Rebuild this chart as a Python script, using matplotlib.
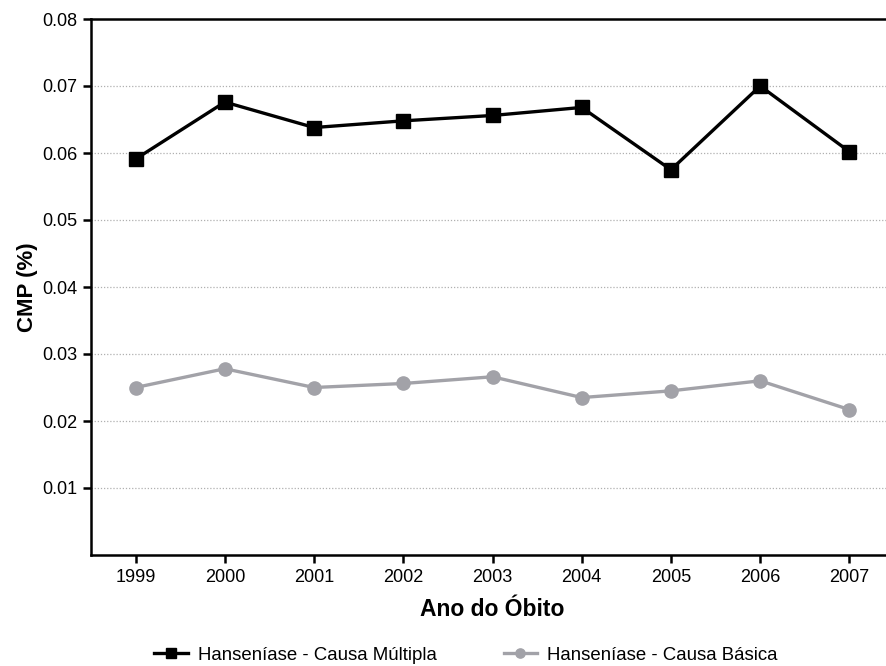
import matplotlib
matplotlib.use("Agg")
import matplotlib.pyplot as plt

plt.rcParams["font.family"] = ["Liberation Sans", "DejaVu Sans"]

years = [1999, 2000, 2001, 2002, 2003, 2004, 2005, 2006, 2007]
causa_multipla = [0.0591, 0.0676, 0.0638, 0.0648, 0.0656, 0.0668, 0.0575, 0.0700, 0.0602]
causa_basica = [0.0250, 0.0278, 0.0250, 0.0256, 0.0266, 0.0235, 0.0245, 0.0260, 0.0217]
y_ticks = [0.01, 0.02, 0.03, 0.04, 0.05, 0.06, 0.07, 0.08]
y_labels = ["0.01", "0.02", "0.03", "0.04", "0.05", "0.06", "0.07", "0.08"]

fig = plt.figure(figsize=(8.86, 6.66), dpi=100)
# axes run a little past the right edge, as in the reference
ax = fig.add_axes([91 / 886, 1 - 555 / 666, 803 / 886, 536 / 666])

ax.plot(years, causa_multipla, color="black", lw=2.4, marker="s", ms=9.5,
        label="Hanseníase - Causa Múltipla", zorder=3)
ax.plot(years, causa_basica, color="#a2a2a8", lw=2.4, marker="o", ms=9.5,
        label="Hanseníase - Causa Básica", zorder=3)

ax.set_xlim(1998.5, 2007.5)
ax.set_ylim(0, 0.08)
ax.set_xticks(years)
ax.set_xticklabels([str(y) for y in years])
ax.set_yticks(y_ticks)
ax.set_yticklabels(y_labels)

for y in y_ticks[:-1]:
    ax.axhline(y, color="#b0b0b0", lw=0.9, ls=(0, (1, 1.5)), zorder=1)

for side in ["left", "bottom", "top"]:
    ax.spines[side].set_linewidth(1.8)
ax.spines["right"].set_visible(False)
ax.tick_params(axis="both", direction="out", length=6, width=1.8,
               labelsize=13, colors="black", pad=4)

ax.set_xlabel("Ano do Óbito", fontsize=16.5, fontweight="bold", labelpad=9)
ax.set_ylabel("CMP (%)", fontsize=16, fontweight="bold", labelpad=3)

fig.legend(loc="center", bbox_to_anchor=(466 / 886, 1 - 655 / 666), ncol=2,
           frameon=False, fontsize=13.4, columnspacing=3.6, handlelength=1.8,
           handletextpad=0.55, markerscale=0.7)

fig.savefig("out.png", dpi=100)
